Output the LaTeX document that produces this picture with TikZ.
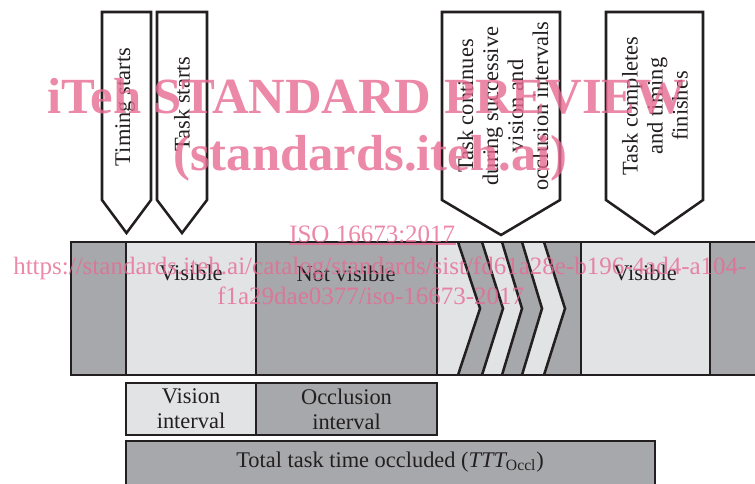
\documentclass[tikz,border=0pt]{standalone}
\usepackage{fontspec}
\setmainfont{Liberation Serif}
\definecolor{ink}{HTML}{231F20}
\definecolor{darkgrey}{HTML}{A7A8AB}
\definecolor{palegrey}{HTML}{E2E3E5}
\definecolor{wmpink}{RGB}{231,106,146}
\begin{document}
\begin{tikzpicture}[x=0.75pt,y=-0.75pt,
  outline/.style={draw=ink,line width=1.9pt,line join=miter},
  lbl/.style={font=\fontsize{16.8}{18.75}\selectfont,text=ink,inner sep=0pt},
  vlbl/.style={lbl,rotate=90,align=center},
  wmbig/.style={text=wmpink,opacity=0.8,inner sep=0pt,anchor=base west,
    font=\fontsize{38}{40}\selectfont\bfseries},
  wmsmall/.style={text=wmpink,opacity=0.8,inner sep=0pt,anchor=base west,
    font=\fontsize{18.75}{20}\selectfont}]
\useasboundingbox (0,0) rectangle (755,483);
\clip (0,0) rectangle (755,483);

% event markers above the time line
\filldraw[outline,fill=white] (102,12) -- (151,12) -- (151,200) -- (126.5,233) -- (102,200) -- cycle;
\filldraw[outline,fill=white] (157,12) -- (207,12) -- (207,200) -- (182,233) -- (157,200) -- cycle;
\filldraw[outline,fill=white] (442,12) -- (560,12) -- (560,200) -- (501,235) -- (442,200) -- cycle;
\filldraw[outline,fill=white] (606,12) -- (703,12) -- (703,200) -- (654.5,234) -- (606,200) -- cycle;
\node[vlbl] (timing) at (125,107) {Timing starts};
\node[vlbl] (taskstart) at (182,104) {Task starts};
\node[vlbl] (taskcont) at (503,106) {Task continues\\during successive\\vision and\\occlusion intervals};
\node[vlbl] (taskend) at (655,106) {Task completes\\and timing\\finishes};

% time line segments
\fill[darkgrey] (71,242) rectangle (126,375);
\fill[palegrey] (126,242) rectangle (256,375);
\fill[darkgrey] (256,242) rectangle (437,375);
\fill[palegrey] (437,242) -- (458,242) -- (480,308.5) -- (458,375) -- (437,375) -- cycle;
\fill[darkgrey] (458,242) -- (482,242) -- (503,308.5) -- (482,375) -- (458,375) -- (480,308.5) -- cycle;
\fill[palegrey] (482,242) -- (502,242) -- (522,308.5) -- (502,375) -- (482,375) -- (503,308.5) -- cycle;
\fill[darkgrey] (502,242) -- (522,242) -- (542,308.5) -- (522,375) -- (502,375) -- (522,308.5) -- cycle;
\fill[palegrey] (522,242) -- (544,242) -- (565,308.5) -- (544,375) -- (522,375) -- (542,308.5) -- cycle;
\fill[darkgrey] (544,242) -- (581,242) -- (581,375) -- (544,375) -- (565,308.5) -- cycle;
\fill[palegrey] (581,242) rectangle (710,375);
\fill[darkgrey] (710,242) rectangle (760,375);

\draw[outline] (760,242) -- (71,242) -- (71,375) -- (760,375);
\foreach \xx in {126,256,437,581,710} \draw[outline] (\xx,242) -- (\xx,375);
\draw[outline] (458,242) -- (480,308.5) -- (458,375);
\draw[outline] (482,242) -- (503,308.5) -- (482,375);
\draw[outline] (502,242) -- (522,308.5) -- (502,375);
\draw[outline] (522,242) -- (542,308.5) -- (522,375);
\draw[outline] (544,242) -- (565,308.5) -- (544,375);

\node[lbl] (vis1) at (191,273) {Visible};
\node[lbl] (notvis) at (346,274) {Not visible};
\node[lbl] (vis2) at (645,273) {Visible};

% interval boxes
\filldraw[outline,fill=palegrey] (126,383) rectangle (256,435);
\filldraw[outline,fill=darkgrey] (256,383) rectangle (437,435);
\filldraw[outline,fill=darkgrey] (126,441) rectangle (655,495);
\node[lbl,align=center] (visint) at (191,409) {Vision\\interval};
\node[lbl,align=center] (occint) at (346.5,409) {Occlusion\\interval};
\node[lbl] (ttt) at (390,462) {Total task time occluded ({\itshape TTT}\textsubscript{Occl})};

% overprinted preview stamp
\node[wmbig] (wm1) at (47,113) {iTeh STANDARD PREVIEW};
\node[wmbig] (wm2) at (173,170) {(standards.iteh.ai)};
\node[wmsmall] (wm3) at (289,242) {ISO 16673:2017};
\draw[wmpink,opacity=0.8,line width=1.1pt] ([yshift=-1.6pt]wm3.base west) -- ([yshift=-1.6pt]wm3.base east);
\node[wmsmall] (wm4) at (13,274) {https://standards.iteh.ai/catalog/standards/sist/fd61a28e-b196-4ad4-a104-};
\node[wmsmall] (wm5) at (217,304) {f1a29dae0377/iso-16673-2017};
\end{tikzpicture}
\end{document}
